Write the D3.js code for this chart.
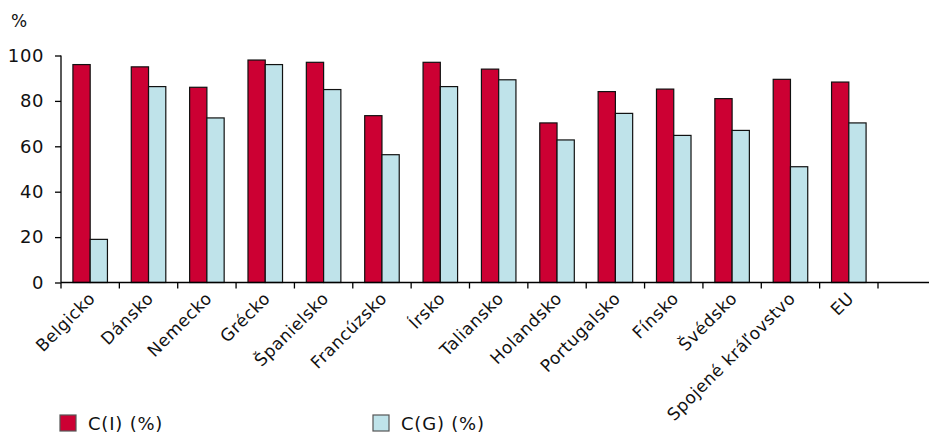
<!DOCTYPE html>
<html>
<head>
<meta charset="utf-8">
<script src="https://cdn.jsdelivr.net/npm/d3@7"></script>
<style>
  html, body { margin: 0; padding: 0; background: #fff; }
  svg { display: block; font-family: "DejaVu Sans", Verdana, sans-serif; }
</style>
</head>
<body>
<svg id="chart" width="929" height="434"></svg>
<script>
// Data
const categories = ["Belgicko", "Dánsko", "Nemecko", "Grécko", "Španielsko", "Francúzsko", "Írsko",
  "Taliansko", "Holandsko", "Portugalsko", "Fínsko", "Švédsko", "Spojené kráľovstvo", "EU"];
const seriesNames = ["C(I) (%)", "C(G) (%)"];
const valuesCI = [96, 95, 86, 98, 97, 73.5, 97, 94, 70.3, 84.1, 85.2, 81, 89.5, 88.3];
const valuesCG = [19, 86.3, 72.5, 96, 85, 56.3, 86.3, 89.3, 62.8, 74.5, 64.8, 67, 51, 70.3];
const yTicks = [0, 20, 40, 60, 80, 100];
const colors = ["#CC0033", "#BFE3EA"];

const svg = d3.select("#chart");
const plotLeft = 61, plotRight = 878, plotTop = 55.5, plotBottom = 282.5;

const x = d3.scaleBand().domain(categories).range([plotLeft, plotRight]).padding(0);
const bw = x.bandwidth();
const x1 = d3.scaleBand().domain(seriesNames).range([0, bw]).paddingInner(0).paddingOuter(0.69);
const y = d3.scaleLinear().domain([0, 100]).range([plotBottom, plotTop]);

const rows = categories.map((c, i) => ({ c, vals: [valuesCI[i], valuesCG[i]] }));

// Bars
const g = svg.append("g");
rows.forEach(r => {
  r.vals.forEach((v, j) => {
    g.append("rect")
      .attr("x", x(r.c) + x1(seriesNames[j]))
      .attr("y", y(v))
      .attr("width", x1.bandwidth())
      .attr("height", y(0) - y(v))
      .attr("fill", colors[j])
      .attr("stroke", "#111")
      .attr("stroke-width", 1.2);
  });
});

// Y axis
const yAxis = d3.axisLeft(y).tickValues(yTicks).tickSize(6).tickPadding(11).tickFormat(d3.format("d"));
const gy = svg.append("g").attr("transform", `translate(${plotLeft},0)`).call(yAxis);
gy.select(".domain").attr("stroke", "#000").attr("stroke-width", 1.3).attr("d", `M0,${plotTop}V${plotBottom}`);
gy.selectAll(".tick line").attr("stroke", "#000").attr("stroke-width", 1.3);
gy.selectAll(".tick text").attr("font-size", 18).attr("letter-spacing", 0.6).attr("fill", "#111")
  .attr("font-family", "DejaVu Sans, Verdana, sans-serif");

// X axis baseline and band-boundary ticks
svg.append("line").attr("x1", plotLeft).attr("x2", 929).attr("y1", plotBottom).attr("y2", plotBottom)
  .attr("stroke", "#000").attr("stroke-width", 1.5);
const bounds = categories.map(c => x(c)).concat([plotRight]);
svg.append("g").selectAll("line").data(bounds).join("line")
  .attr("x1", d => d).attr("x2", d => d)
  .attr("y1", plotBottom).attr("y2", plotBottom + 6)
  .attr("stroke", "#000").attr("stroke-width", 1.3);

// Category labels
svg.append("g").selectAll("text").data(categories).join("text")
  .attr("transform", d => `translate(${x(d) + bw / 2 + 6},${plotBottom + 17}) rotate(-45)`)
  .attr("text-anchor", "end")
  .attr("font-size", 17)
  .attr("letter-spacing", 0.5)
  .attr("fill", "#111")
  .text(d => d);

// Unit label
svg.append("text").attr("x", 11).attr("y", 27).attr("font-size", 17).attr("fill", "#111").text("%");

// Legend
const legendX = [60, 373];
seriesNames.forEach((s, j) => {
  svg.append("rect").attr("x", legendX[j]).attr("y", 415).attr("width", 16).attr("height", 16)
    .attr("fill", colors[j]).attr("stroke", "#555").attr("stroke-width", 1.2);
  svg.append("text").attr("x", legendX[j] + 28).attr("y", 430).attr("font-size", 18)
    .attr("letter-spacing", 0.8).attr("fill", "#111").text(s);
});
</script>
</body>
</html>
